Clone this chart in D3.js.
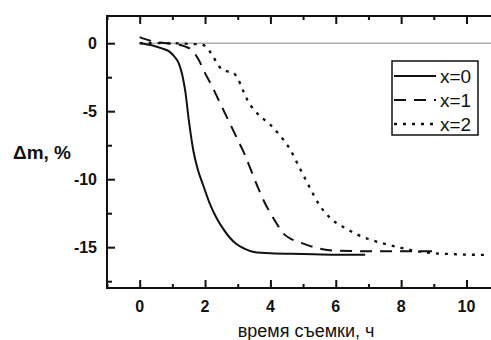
<!DOCTYPE html>
<html>
<head>
<meta charset="utf-8">
<script src="https://cdn.jsdelivr.net/npm/d3@7"></script>
<style>
  body { margin: 0; background: #fff; }
  svg { display: block; font-family: Arial, "Liberation Sans", sans-serif; }
</style>
</head>
<body>
<div id="chart"></div>
<script>
// time, h
const t0 = [0, 0.4, 0.7, 0.9, 1.05, 1.2, 1.3, 1.4, 1.5, 1.65, 1.78, 1.93, 2.13, 2.34, 2.54, 2.74, 2.95, 3.2, 3.5, 4, 5, 6, 6.9];
const m0 = [0, -0.17, -0.4, -0.6, -0.95, -1.5, -2.3, -3.6, -5.6, -8.0, -9.3, -10.35, -11.7, -12.8, -13.6, -14.25, -14.75, -15.1, -15.35, -15.45, -15.5, -15.55, -15.55];

const t1 = [0, 0.3, 0.6, 1.0, 1.4, 1.6, 1.8, 2.0, 2.2, 2.4, 2.6, 2.8, 3.0, 3.2, 3.4, 3.6, 3.8, 4.0, 4.2, 4.4, 4.6, 4.9, 5.2, 5.6, 6, 7, 8, 9];
const m1 = [0.45, 0.2, 0.05, -0.05, -0.25, -0.5, -1.2, -2.2, -3.1, -4.1, -5.1, -6.1, -7.1, -8.1, -9.3, -10.5, -11.6, -12.5, -13.3, -14.0, -14.35, -14.65, -14.9, -15.15, -15.25, -15.3, -15.3, -15.3];

const t2 = [0, 0.5, 1.0, 1.5, 1.9, 2.05, 2.2, 2.35, 2.5, 2.65, 2.85, 3.0, 3.15, 3.3, 3.5, 3.7, 4.0, 4.3, 4.6, 4.9, 5.2, 5.5, 5.9, 6.3, 6.6, 7.0, 7.5, 8.0, 8.5, 9.0, 9.5, 10.0, 10.7];
const m2 = [0, 0, 0, -0.05, -0.1, -0.3, -0.8, -1.4, -1.9, -2.05, -2.15, -2.6, -3.4, -4.2, -4.9, -5.4, -6.0, -6.8, -7.8, -9.2, -10.6, -11.9, -13.0, -13.6, -14.0, -14.4, -14.75, -15.05, -15.3, -15.45, -15.5, -15.55, -15.56];

const seriesNames = ["x=0", "x=1", "x=2"];
const xTicks = [0, 2, 4, 6, 8, 10];
const yTicks = [0, -5, -10, -15];

const width = 491, height = 340;
const margin = {top: 16, right: 0, bottom: 52, left: 107};

const x = d3.scaleLinear().domain([-1, 10.75]).range([margin.left, width - margin.right]);
const y = d3.scaleLinear().domain([-18, 2]).range([height - margin.bottom, margin.top]);

const svg = d3.select("#chart").append("svg")
    .attr("width", width)
    .attr("height", height);

// zero reference line
svg.append("line")
    .attr("x1", x(0)).attr("x2", x(10.75))
    .attr("y1", y(0)).attr("y2", y(0))
    .attr("stroke", "#888").attr("stroke-width", 1);

const line = d3.line()
    .x(d => x(d[0]))
    .y(d => y(d[1]))
    .curve(d3.curveMonotoneX);

const styles = [
    {dash: null, w: 2},
    {dash: "12,8", w: 2},
    {dash: "3,6", w: 2.3}
];
const series = [d3.zip(t0, m0), d3.zip(t1, m1), d3.zip(t2, m2)];

svg.append("g")
    .selectAll("path")
    .data(series)
    .join("path")
    .attr("fill", "none")
    .attr("stroke", "#111")
    .attr("stroke-width", (d, i) => styles[i].w)
    .attr("stroke-dasharray", (d, i) => styles[i].dash)
    .attr("d", line);

// axes
const minorX = d3.range(-1, 11, 1).filter(v => v % 2 !== 0);
const minorY = [-2.5, -7.5, -12.5, -17.5];

const xAxis = g => g
    .attr("transform", `translate(0,${y(-18)})`)
    .call(d3.axisTop(x).tickValues(xTicks).tickSize(8).tickFormat(""))
    .call(g => g.select(".domain").remove());
const xAxisMinor = g => g
    .attr("transform", `translate(0,${y(-18)})`)
    .call(d3.axisTop(x).tickValues(minorX).tickSize(4).tickFormat(""))
    .call(g => g.select(".domain").remove());
const xTop = g => g
    .attr("transform", `translate(0,${y(2)})`)
    .call(d3.axisBottom(x).tickValues(xTicks).tickSize(8).tickFormat(""))
    .call(g => g.select(".domain").remove());
const xTopMinor = g => g
    .attr("transform", `translate(0,${y(2)})`)
    .call(d3.axisBottom(x).tickValues(minorX).tickSize(4).tickFormat(""))
    .call(g => g.select(".domain").remove());
const yAxis = g => g
    .attr("transform", `translate(${x(-1)},0)`)
    .call(d3.axisRight(y).tickValues(yTicks).tickSize(8).tickFormat(""))
    .call(g => g.select(".domain").remove());
const yAxisMinor = g => g
    .attr("transform", `translate(${x(-1)},0)`)
    .call(d3.axisRight(y).tickValues(minorY).tickSize(5).tickFormat(""))
    .call(g => g.select(".domain").remove());

[xAxis, xAxisMinor, xTop, xTopMinor, yAxis, yAxisMinor].forEach(a => {
    svg.append("g").call(a)
        .selectAll("line").attr("stroke", "#111").attr("stroke-width", 2);
});

// frame lines
svg.append("line")
    .attr("x1", x(-1)).attr("x2", width)
    .attr("y1", y(-18)).attr("y2", y(-18))
    .attr("stroke", "#111").attr("stroke-width", 2);
svg.append("line")
    .attr("x1", x(-1)).attr("x2", width)
    .attr("y1", y(2)).attr("y2", y(2))
    .attr("stroke", "#111").attr("stroke-width", 2);
svg.append("line")
    .attr("x1", x(-1)).attr("x2", x(-1))
    .attr("y1", y(2) - 1).attr("y2", y(-18) + 1)
    .attr("stroke", "#111").attr("stroke-width", 2);

// tick labels
svg.append("g")
    .selectAll("text")
    .data(xTicks)
    .join("text")
    .attr("x", d => x(d))
    .attr("y", y(-18) + 24)
    .attr("text-anchor", "middle")
    .attr("font-size", 16)
    .attr("font-weight", "bold")
    .attr("fill", "#111")
    .text(d => d);

svg.append("g")
    .selectAll("text")
    .data(yTicks)
    .join("text")
    .attr("x", x(-1) - 10)
    .attr("y", d => y(d) + 5.5)
    .attr("text-anchor", "end")
    .attr("font-size", 16)
    .attr("font-weight", "bold")
    .attr("fill", "#111")
    .text(d => d);

// axis titles
svg.append("text")
    .attr("x", 13)
    .attr("y", 159)
    .attr("font-size", 19)
    .attr("font-weight", "bold")
    .attr("fill", "#111")
    .text("Δm, %");

svg.append("text")
    .attr("x", 306)
    .attr("y", 337)
    .attr("text-anchor", "middle")
    .attr("font-size", 18)
    .attr("fill", "#111")
    .text("время съемки, ч");

// legend
const legend = svg.append("g");
legend.append("rect")
    .attr("x", 392).attr("y", 61)
    .attr("width", 86).attr("height", 74)
    .attr("fill", "#fff")
    .attr("stroke", "#111").attr("stroke-width", 1.5);

const rowY = [76, 100, 124];
legend.selectAll("line.sample")
    .data(seriesNames)
    .join("line")
    .attr("class", "sample")
    .attr("x1", 394).attr("x2", 436)
    .attr("y1", (d, i) => rowY[i]).attr("y2", (d, i) => rowY[i])
    .attr("stroke", "#111")
    .attr("stroke-width", (d, i) => styles[i].w)
    .attr("stroke-dasharray", (d, i) => styles[i].dash);

legend.selectAll("text")
    .data(seriesNames)
    .join("text")
    .attr("x", 440)
    .attr("y", (d, i) => rowY[i] + 7)
    .attr("font-size", 19)
    .attr("fill", "#111")
    .text(d => d);
</script>
</body>
</html>
